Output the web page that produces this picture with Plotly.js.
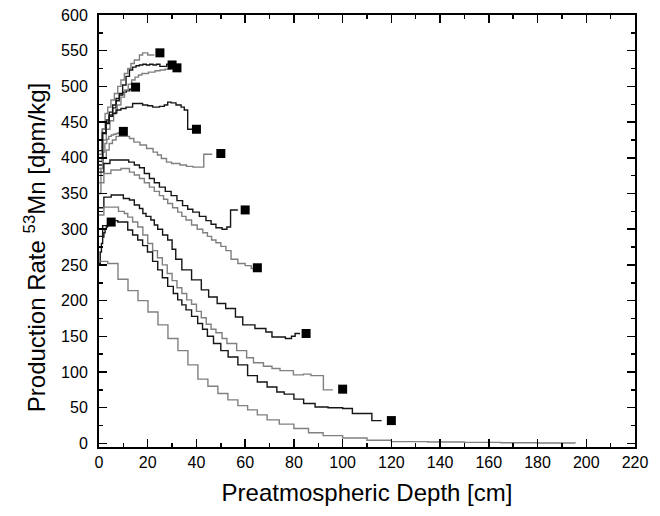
<!DOCTYPE html>
<html><head><meta charset="utf-8">
<script src="https://cdn.plot.ly/plotly-3.0.1.min.js"></script>
<style>html,body{margin:0;padding:0;background:#fff}#chart{width:660px;height:516px}</style>
</head><body><div id="chart"></div><script>
// Depth profiles (step curves), one per meteoroid radius
const r5x = [0,0.5,1,1.5,2,2.5,3,3.5,4,4.5];
const r5y = [252,268,280,289,295,300,303,306,308,309];
const r10x = [0,0.8,1.6,2.4,3.2,4,5,6,7,8,8.8];
const r10y = [350,385,408,420,426,430,432,433,434,435,435];
const r15x = [0,1.4,2.8,4.2,5.6,7,8.4,9.8,11.2,12.6,13.5];
const r15y = [395,440,453,464,474,483,488,492,494,496,497];
const r25x = [0,1.3,2.5,3.6,4.9,6.3,7.7,9,10.4,11.8,13.1,14.5,16.6,17.9,20,22.7];
const r25y = [405,440,462,471,481,490,500,509,518,525,532,537,544,547,544,544];
const r30x = [0,1.4,2.8,4.2,5.6,7,8.3,9.7,11.1,12.5,13.8,15.2,16.6,18,19.4,20.8,22.2,23.6,25,26.4,27.8,28.5];
const r30y = [410,435,450,460,470,480,490,502,514,523,527,529,530,531,530,531,530,531,528,528,531,531];
const r32x = [0,1.5,3,4.5,6,7.5,9,10.5,12,13.4,14.8,16.2,17.6,20.3,23,25.1,27.1,29.2,30.5];
const r32y = [400,425,440,452,463,474,485,495,503,509,513,516,518,520,522,523,524,526,526];
const r40x = [0,1.5,2.9,4.2,5.6,7,9,11.1,13.8,15.9,17.9,20,22,24.8,26.8,28.2,29.6,31.6,33.7,35,36.4,38.5];
const r40y = [390,434,448,458,462,467,469,471,476,476,474,473,471,472,474,478,477,474,471,467,440,440];
const r50x = [0,1.5,3,4.2,5.5,7,12.5,14.3,16.8,19.5,22.2,24,25.6,27.7,29.8,33.2,35.9,38.6,41,43,46.5];
const r50y = [385,400,411,420,425,430,427,422,418,413,408,404,399,394,392,390,388,387,387,405,405];
const r60x = [0,2,4.5,9.5,12.2,14.5,16.6,18.6,20.7,22.7,24.8,27.2,29.6,32,34.3,36.4,38.5,41.2,43.9,46,48,50.5,52.5,54,57];
const r60y = [380,392,397,397,394,390,386,378,371,365,359,353,347,340,333,328,324,318,312,307,302,300,303,327,327];
const r65x = [0,2,4.9,9,12.5,14.5,16.6,18.6,20.7,22.7,24.8,26.5,28.2,30.2,32.3,34,35.7,38,40.3,42.6,44.5,46.2,48,50,52.1,54.2,57,60,62.5,63.5];
const r65y = [365,378,383,385,380,376,371,365,359,353,347,342,336,330,324,318,313,306,300,295,290,285,281,276,270,258,252,249,245,245];
const r85x = [0,2,5,10,12.5,14.5,16.6,18,19.3,21.3,22.7,24.1,26.1,28.2,30,31.5,34,38,42,45,48.5,52,56,59,64,68.5,71,76.5,79,80.5,82.5];
const r85y = [330,345,348,343,341,334,329,322,318,313,306,300,292,285,272,258,243,229,215,205,196,189,177,166,161,156,149,147,150,154,154];
const r100x = [0,2,8,10.4,11.8,13.8,15.9,18,20,22,24,26,28,30,32,34,36,38,40,42,44,46,48,50.5,52.5,56.5,60.6,63.4,67.5,71,74.3,79.8,83.9,87,92.1,96];
const r100y = [320,331,325,322,317,310,303,292,280,270,260,250,238,228,218,210,201,195,185,176,167,160,155,147,140,130,120,113,108,105,102,96,97,95,75,75];
const r120x = [0,1.5,4,7.7,11.8,13.8,15.9,17.9,19.9,22,24.1,26,28.2,30.5,32.3,34,35.7,38,40.5,42.5,44.5,47,50,53,57,61,65,69,73,76,80,84,88.7,94,100,104,112,116];
const r120y = [290,305,312,310,299,292,285,277,268,255,243,232,220,210,201,194,187,178,168,160,150,140,130,121,110,95,86,79,72,69,62,56,51,50,49,42,32,32];
const bigx = [0,3.6,7.8,11.9,16,20.1,24.2,28.3,32.4,36.5,40.6,44.7,48.8,52.9,57,61,65,69,74,80,86,92,100,110,120,135,150,165,180,195.5];
const bigy = [255,252,230,214,200,184,166,147,130,110,90,80,70,61,53,47,40,33,27,21,15,11,7.5,4.5,2.5,2,1.5,1,0.7,0.5];
// Centre values (square markers)
const centerX = [5,10,15,25,30,32,40,50,60,65,85,100,120];
const centerY = [310,437,499,547,530,526,440,406,327,246,154,76,32];

const BLACK = '#151515', GRAY = '#808080';
const curves = [
  [r5x, r5y, BLACK], [r10x, r10y, GRAY], [r15x, r15y, BLACK], [r25x, r25y, GRAY],
  [r30x, r30y, BLACK], [r32x, r32y, GRAY], [r40x, r40y, BLACK], [r50x, r50y, GRAY],
  [r60x, r60y, BLACK], [r65x, r65y, GRAY], [r85x, r85y, BLACK], [r100x, r100y, GRAY],
  [r120x, r120y, BLACK], [bigx, bigy, GRAY]
];
const traces = curves.map(c => ({
  x: c[0], y: c[1], type: 'scatter', mode: 'lines',
  line: {shape: 'hv', color: c[2], width: 1.4}, hoverinfo: 'skip'
}));
traces.push({x: centerX, y: centerY, type: 'scatter', mode: 'markers',
  marker: {symbol: 'square', size: 9, color: '#000'}});

const FONT = 'Liberation Sans, Arial, sans-serif';
const axisCommon = {
  showgrid: false, zeroline: false, showline: true, linewidth: 2, linecolor: '#000',
  mirror: 'ticks', ticks: 'inside', ticklen: 8, tickwidth: 1.5, tickcolor: '#000',
  tickfont: {family: FONT, size: 16, color: '#000'}
};
const layout = {
  width: 660, height: 516,
  margin: {l: 99, r: 25, t: 15, b: 69},
  paper_bgcolor: '#fff', plot_bgcolor: '#fff',
  showlegend: false,
  font: {family: FONT, color: '#000'},
  xaxis: Object.assign({}, axisCommon, {
    range: [0, 220], tick0: 0, dtick: 20,
    minor: {dtick: 10, ticks: 'inside', ticklen: 4, tickwidth: 1.5, tickcolor: '#000'},
    title: {text: 'Preatmospheric Depth [cm]', font: {family: FONT, size: 24, color: '#000'}, standoff: 14}
  }),
  yaxis: Object.assign({}, axisCommon, {
    range: [-5, 600], tick0: 0, dtick: 50, ticklabelstandoff: 6,
    minor: {dtick: 25, ticks: 'inside', ticklen: 4, tickwidth: 1.5, tickcolor: '#000'}
  }),
  annotations: [{
    text: 'Production Rate <sup>53</sup>Mn [dpm/kg]', textangle: -90,
    xref: 'paper', yref: 'paper', x: -0.119, y: 0.5, xanchor: 'center', yanchor: 'middle',
    yshift: -16, showarrow: false, font: {family: FONT, size: 24, color: '#000'}
  }]
};
Plotly.newPlot('chart', traces, layout, {displayModeBar: false, staticPlot: true});
</script></body></html>
